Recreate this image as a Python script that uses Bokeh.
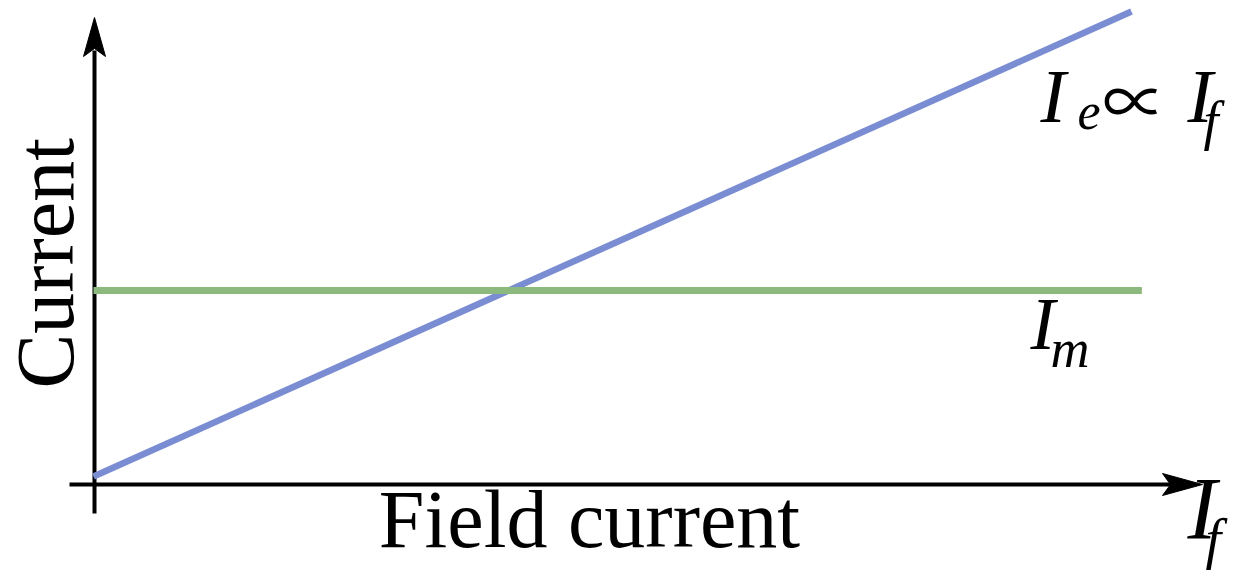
import numpy as np
from bokeh.plotting import figure
from bokeh.models import Label, Range1d, ColumnDataSource
from bokeh.embed import file_html
from bokeh.resources import INLINE

# ---- data (arbitrary units) ----
field_current = [0, 10]          # I_f
excitation_current = [0, 10]     # I_e ∝ I_f
motor_field = [0, 10.1]
motor_current = [4, 4]           # I_m (constant)

# ---- layout (canvas pixels) ----
W, H = 1241, 579
X0, Y0 = 93, 476          # canvas position of data origin (y from top)
SX, SY = 103.8, 46.5      # pixels per data unit

def dx(px):
    return (px - X0) / SX

def dy(py):
    return (Y0 - py) / SY

p = figure(width=W, height=H, output_backend="svg", toolbar_location=None,
           x_range=Range1d(dx(0), dx(W)), y_range=Range1d(dy(H), dy(0)),
           min_border=0, x_axis_type=None, y_axis_type=None,
           outline_line_color=None, background_fill_color="white",
           border_fill_color="white")

# axes with arrow heads
p.segment(x0=[dx(94), dx(69)], y0=[dy(513), dy(484)],
          x1=[dx(94), dx(1172)], y1=[dy(50), dy(484)],
          line_color="black", line_width=4)
p.patches(xs=[[dx(94), dx(105), dx(94), dx(83)],
              [dx(1202), dx(1162), dx(1170), dx(1162)]],
          ys=[[dy(17), dy(56), dy(48), dy(56)],
              [dy(484), dy(473), dy(484), dy(495)]],
          fill_color="black", line_color="black", line_width=1)

# data lines
src_e = ColumnDataSource(dict(x=field_current, y=excitation_current))
src_m = ColumnDataSource(dict(x=motor_field, y=motor_current))
p.line("x", "y", source=src_e, line_color="#7A8DD3", line_width=6.5, line_cap="butt")
p.line("x", "y", source=src_m, line_color="#8CB97D", line_width=7, line_cap="butt")

SERIF = "Liberation Serif"

def lab(x, y, text, size, style="normal", font=SERIF, align="left", angle=0):
    p.add_layout(Label(x=x, y=y, x_units="screen", y_units="screen", text=text,
                       text_font=font, text_font_size=f"{size}px",
                       text_font_style=style, text_align=align,
                       text_baseline="alphabetic", angle=angle,
                       text_color="black"))

# axis titles
lab(45, 191, "Current", 82, angle=np.pi / 2)
lab(589, 60, "Field current", 82, align="center")

# I_e ∝ I_f
lab(1040, 484, "I", 76, "italic")
lab(1077, 468, "e", 52, "italic")
lab(1134, 483, "∝", 64, font="Noto Sans CJK JP", align="center")
lab(1187, 484, "I", 76, "italic")
lab(1203, 459, "f", 54, "italic")

# I_m
lab(1030, 256, "I", 74, "italic")
lab(1050, 231, "m", 54, "italic")

# axis label I_f
lab(1187, 71, "I", 88, "italic")
lab(1205, 41, "f", 56, "italic")

open("out.html", "w").write(file_html(p, INLINE))
